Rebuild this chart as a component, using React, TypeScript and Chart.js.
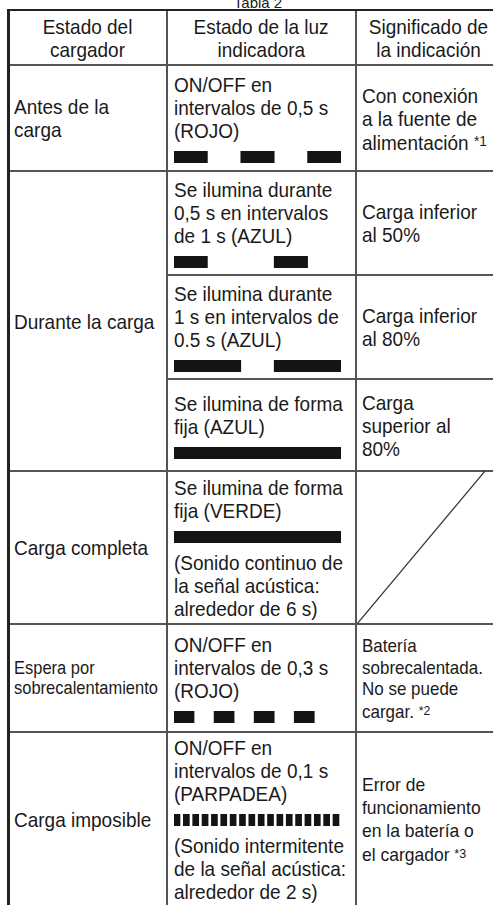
import React, { useEffect, useRef } from "react";
import { Chart, registerables } from "chart.js";

Chart.register(...registerables);

// ---------- data ----------
const titulo = "Tabla 2";

const encabezadoCargador = ["Estado del", "cargador"];
const encabezadoLuz = ["Estado de la luz", "indicadora"];
const encabezadoSignificado = ["Significado de", "la indicación"];

const estadoAntes = ["Antes de la", "carga"];
const estadoDurante = ["Durante la carga"];
const estadoCompleta = ["Carga completa"];
const estadoEspera = ["Espera por", "sobrecalentamiento"];
const estadoImposible = ["Carga imposible"];

const luzAntes = ["ON/OFF en", "intervalos de 0,5 s", "(ROJO)"];
const luzDurante50 = ["Se ilumina durante", "0,5 s en intervalos", "de 1 s (AZUL)"];
const luzDurante80 = ["Se ilumina durante", "1 s en intervalos de", "0.5 s (AZUL)"];
const luzDuranteFija = ["Se ilumina de forma", "fija (AZUL)"];
const luzCompleta = ["Se ilumina de forma", "fija (VERDE)"];
const sonidoCompleta = ["(Sonido continuo de", "la señal acústica:", "alrededor de 6 s)"];
const luzEspera = ["ON/OFF en", "intervalos de 0,3 s", "(ROJO)"];
const luzImposible = ["ON/OFF en", "intervalos de 0,1 s", "(PARPADEA)"];
const sonidoImposible = ["(Sonido intermitente", "de la señal acústica:", "alrededor de 2 s)"];

const signAntes = ["Con conexión", "a la fuente de", "alimentación *1"];
const signDurante50 = ["Carga inferior", "al 50%"];
const signDurante80 = ["Carga inferior", "al 80%"];
const signDuranteFija = ["Carga", "superior al", "80%"];
const signEspera = ["Batería", "sobrecalentada.", "No se puede", "cargar. *2"];
const signImposible = ["Error de", "funcionamiento", "en la batería o", "el cargador *3"];

// light ON segments, in seconds [start, end]
const patronRojo05 = [[0, 0.5], [1, 1.5], [2, 2.5]];
const patronAzul05en1 = [[0, 0.5], [1.5, 2]];
const patronAzul1en05 = [[0, 1], [1.5, 2.5]];
const patronAzulFija = [[0, 2.5]];
const patronVerdeFija = [[0, 2.5]];
const patronRojo03 = [[0, 0.3], [0.6, 0.9], [1.2, 1.5], [1.8, 2.1]];
const patronParpadea = [
  [0, 0.09], [0.14, 0.23], [0.28, 0.37], [0.42, 0.51], [0.56, 0.65], [0.7, 0.79],
  [0.84, 0.93], [0.98, 1.07], [1.12, 1.21], [1.26, 1.35], [1.4, 1.49], [1.54, 1.63],
  [1.68, 1.77], [1.82, 1.91], [1.96, 2.05], [2.1, 2.19], [2.24, 2.33], [2.38, 2.47],
];
const escalaTiempo = [0, 2.5];

// "not applicable" diagonal
const diagonal = [[0, 0], [1, 1]];

// ---------- layout ----------
const X = [8.5, 167, 356, 500];
const Y = [10, 65, 171, 275, 379, 471, 624, 732, 906];
const FONT = '"Liberation Sans", Arial, Helvetica, sans-serif';
const INK = "#1a1a1a";
const LINE = "#555";
const BAR_W = 167;
const BAR_H = 12;
const NARROW = 0.925;

function LightBar({ segments }: { segments: number[][] }) {
  const ref = useRef<HTMLCanvasElement>(null);
  useEffect(() => {
    const chart = new Chart(ref.current as HTMLCanvasElement, {
      type: "bar",
      data: {
        labels: ["luz"],
        datasets: [
          {
            data: segments.map((s) => ({ x: s, y: "luz" })) as any,
            backgroundColor: "#141414",
            borderWidth: 0,
            barPercentage: 1,
            categoryPercentage: 1,
          },
        ],
      },
      options: {
        indexAxis: "y",
        animation: false,
        responsive: false,
        events: [],
        layout: { padding: 0 },
        plugins: { legend: { display: false }, tooltip: { enabled: false } },
        scales: {
          x: { type: "linear", min: escalaTiempo[0], max: escalaTiempo[1], display: false },
          y: { type: "category", display: false },
        },
      },
    });
    return () => chart.destroy();
  }, [segments]);
  return (
    <canvas
      ref={ref}
      width={BAR_W}
      height={BAR_H}
      style={{ display: "block", width: BAR_W, height: BAR_H }}
    />
  );
}

function Diagonal({ w, h }: { w: number; h: number }) {
  const ref = useRef<HTMLCanvasElement>(null);
  useEffect(() => {
    const chart = new Chart(ref.current as HTMLCanvasElement, {
      type: "scatter",
      data: {
        datasets: [
          {
            data: diagonal.map(([x, y]) => ({ x, y })),
            showLine: true,
            borderColor: "#333",
            borderWidth: 1.2,
            pointRadius: 0,
            clip: false as any,
          },
        ],
      },
      options: {
        animation: false,
        responsive: false,
        events: [],
        layout: { padding: 0 },
        plugins: { legend: { display: false }, tooltip: { enabled: false } },
        scales: {
          x: { type: "linear", min: 0, max: 1, display: false },
          y: { type: "linear", min: 0, max: 1, display: false },
        },
      },
    });
    return () => chart.destroy();
  }, []);
  return <canvas ref={ref} width={w} height={h} style={{ display: "block", width: w, height: h }} />;
}

function Line({ text }: { text: string }) {
  const m = text.match(/^(.*) (\*\d)$/);
  if (m) {
    return (
      <>
        {m[1]}{" "}
        <span style={{ fontSize: "0.72em", verticalAlign: "0.25em" }}>{m[2]}</span>
      </>
    );
  }
  return <>{text}</>;
}

function Lines({
  lines,
  size = 19,
  lh = 23,
  center = false,
}: {
  lines: string[];
  size?: number;
  lh?: number;
  center?: boolean;
}) {
  return (
    <>
      {lines.map((l, i) => (
        <div
          key={i}
          style={{
            fontSize: size / NARROW,
            lineHeight: lh + "px",
            height: lh,
            whiteSpace: "nowrap",
            textAlign: center ? "center" : "left",
          }}
        >
          <span
            style={{
              display: "inline-block",
              transform: `scaleX(${NARROW})`,
              transformOrigin: center ? "center" : "left",
            }}
          >
            <Line text={l} />
          </span>
        </div>
      ))}
    </>
  );
}

function Cell({
  col,
  r0,
  r1,
  center,
  children,
}: {
  col: number;
  r0: number;
  r1: number;
  center?: boolean;
  children: React.ReactNode;
}) {
  const pad = col === 0 ? 5 : col === 1 ? 6.5 : 6;
  return (
    <div
      style={{
        position: "absolute",
        left: X[col],
        top: Y[r0],
        width: X[col + 1] - X[col],
        height: Y[r1] - Y[r0],
        boxSizing: "border-box",
        paddingLeft: center ? 0 : pad,
        display: "flex",
        flexDirection: "column",
        justifyContent: "center",
        alignItems: center ? "stretch" : "flex-start",
      }}
    >
      {children}
    </div>
  );
}

function Indicator({
  text,
  segments,
  after,
}: {
  text: string[];
  segments: number[][];
  after?: string[];
}) {
  return (
    <div>
      <Lines lines={text} />
      <div style={{ marginTop: 9, marginBottom: after ? 8 : 0, marginLeft: 0.5 }}>
        <LightBar segments={segments} />
      </div>
      {after && <Lines lines={after} />}
    </div>
  );
}

function HLine({ y, x0, x1, w = 2, c = LINE }: { y: number; x0: number; x1: number; w?: number; c?: string }) {
  return <div style={{ position: "absolute", left: x0, top: y - w / 2, width: x1 - x0, height: w, background: c }} />;
}
function VLine({ x, y0, y1, w = 2, c = LINE }: { x: number; y0: number; y1: number; w?: number; c?: string }) {
  return <div style={{ position: "absolute", left: x - w / 2, top: y0, width: w, height: y1 - y0, background: c }} />;
}

export default function App() {
  return (
    <div
      style={{
        position: "absolute",
        left: 0,
        top: 0,
        width: 493,
        height: 905,
        overflow: "hidden",
        background: "#fff",
        fontFamily: FONT,
        color: INK,
      }}
    >
      <div
        style={{
          position: "absolute",
          left: 208,
          top: -5,
          width: 100,
          textAlign: "center",
          fontSize: 15,
          lineHeight: "15px",
        }}
      >
        {titulo}
      </div>

      {/* grid lines */}
      <HLine y={Y[1]} x0={X[0]} x1={493} />
      <HLine y={Y[2]} x0={X[0]} x1={493} />
      <HLine y={Y[3]} x0={X[1]} x1={493} />
      <HLine y={Y[4]} x0={X[1]} x1={493} />
      <HLine y={Y[5]} x0={X[0]} x1={493} />
      <HLine y={Y[6]} x0={X[0]} x1={493} />
      <HLine y={Y[7]} x0={X[0]} x1={493} />
      <VLine x={X[1]} y0={Y[0]} y1={905} />
      <VLine x={X[2]} y0={Y[0]} y1={905} />
      <HLine y={Y[0]} x0={X[0] - 1.5} x1={493} w={2.5} c="#222" />
      <VLine x={X[0]} y0={Y[0] - 1.2} y1={905} w={3} c="#222" />

      {/* header */}
      <Cell col={0} r0={0} r1={1} center>
        <Lines lines={encabezadoCargador} center />
      </Cell>
      <Cell col={1} r0={0} r1={1} center>
        <Lines lines={encabezadoLuz} center />
      </Cell>
      <Cell col={2} r0={0} r1={1} center>
        <Lines lines={encabezadoSignificado} center />
      </Cell>

      {/* Antes de la carga */}
      <Cell col={0} r0={1} r1={2}>
        <Lines lines={estadoAntes} />
      </Cell>
      <Cell col={1} r0={1} r1={2}>
        <Indicator text={luzAntes} segments={patronRojo05} />
      </Cell>
      <Cell col={2} r0={1} r1={2}>
        <Lines lines={signAntes} />
      </Cell>

      {/* Durante la carga */}
      <Cell col={0} r0={2} r1={5}>
        <Lines lines={estadoDurante} />
      </Cell>
      <Cell col={1} r0={2} r1={3}>
        <Indicator text={luzDurante50} segments={patronAzul05en1} />
      </Cell>
      <Cell col={2} r0={2} r1={3}>
        <Lines lines={signDurante50} />
      </Cell>
      <Cell col={1} r0={3} r1={4}>
        <Indicator text={luzDurante80} segments={patronAzul1en05} />
      </Cell>
      <Cell col={2} r0={3} r1={4}>
        <Lines lines={signDurante80} />
      </Cell>
      <Cell col={1} r0={4} r1={5}>
        <Indicator text={luzDuranteFija} segments={patronAzulFija} />
      </Cell>
      <Cell col={2} r0={4} r1={5}>
        <Lines lines={signDuranteFija} />
      </Cell>

      {/* Carga completa */}
      <Cell col={0} r0={5} r1={6}>
        <Lines lines={estadoCompleta} />
      </Cell>
      <Cell col={1} r0={5} r1={6}>
        <Indicator text={luzCompleta} segments={patronVerdeFija} after={sonidoCompleta} />
      </Cell>
      <div style={{ position: "absolute", left: X[2] + 1, top: Y[5], width: 128, height: Y[6] - Y[5] }}>
        <Diagonal w={128} h={Y[6] - Y[5]} />
      </div>

      {/* Espera por sobrecalentamiento */}
      <Cell col={0} r0={6} r1={7}>
        <Lines lines={estadoEspera} size={16.5} lh={20} />
      </Cell>
      <Cell col={1} r0={6} r1={7}>
        <Indicator text={luzEspera} segments={patronRojo03} />
      </Cell>
      <Cell col={2} r0={6} r1={7}>
        <Lines lines={signEspera} size={17} lh={21.5} />
      </Cell>

      {/* Carga imposible */}
      <Cell col={0} r0={7} r1={8}>
        <Lines lines={estadoImposible} />
      </Cell>
      <Cell col={1} r0={7} r1={8}>
        <Indicator text={luzImposible} segments={patronParpadea} after={sonidoImposible} />
      </Cell>
      <Cell col={2} r0={7} r1={8}>
        <Lines lines={signImposible} size={17.5} lh={23} />
      </Cell>
    </div>
  );
}
